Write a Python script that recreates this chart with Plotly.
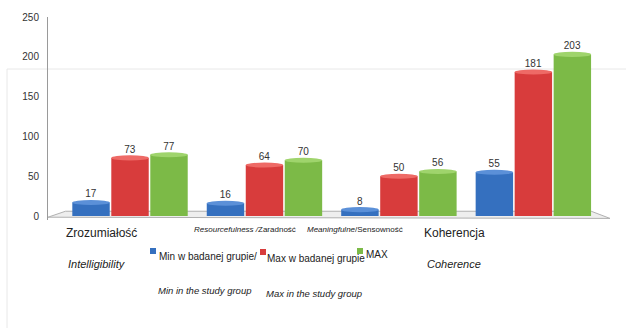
import plotly.graph_objects as go

categories = ["Zrozumiałość", "Resourcefulness /Zaradność", "Meaningfulne/Sensowność", "Koherencja"]
min_group = [17, 16, 8, 55]
max_group = [73, 64, 50, 181]
max_total = [77, 70, 56, 203]
series_names = ["Min w badanej grupie/", "Max w badanej grupie", "MAX"]
y_ticks = [0, 50, 100, 150, 200, 250]

colors = ["#3570bf", "#d83c3c", "#7cba47"]
tops = ["#5b90d8", "#ee6a66", "#9fd46c"]

W, H = 626, 328
ML, MR, MT, MB = 48, 16, 17, 108
PW, PH = W - ML - MR, H - MT - MB


def px(x):
    return (x - ML) / PW


def py(y):
    return (H - MB - y) / PH


FONT = "Liberation Sans, Arial, sans-serif"

fig = go.Figure()
idx = list(range(len(categories)))
for k, (vals, name) in enumerate(zip([min_group, max_group, max_total], series_names)):
    fig.add_trace(go.Bar(
        x=idx, y=vals, name=name, marker=dict(color=colors[k], line=dict(width=0)),
        text=[str(v) for v in vals], textposition="outside",
        textfont=dict(size=10, color="#333", family=FONT),
        cliponaxis=False,
    ))

bargap, groupgap = 0.13, 0.04
slot = (1 - bargap) / 3
bw = slot * (1 - groupgap)
shapes = []
# floor
shapes.append(dict(type="path", xref="x", yref="y",
                   path="M -0.61,-1.5 L -0.48,6 L 3.43,6 L 3.57,-3 Z",
                   fillcolor="#eeeeee", line=dict(color="#b0b0b0", width=1), layer="below"))
for k, vals in enumerate([min_group, max_group, max_total]):
    for i, v in zip(idx, vals):
        c = i + (k - 1) * slot
        shapes.append(dict(type="circle", xref="x", yref="y",
                           x0=c - bw / 2, x1=c + bw / 2, y0=v - 3.2, y1=v + 3.2,
                           fillcolor=tops[k], line=dict(width=0), layer="above"))

# faint frame
shapes.append(dict(type="line", xref="paper", yref="paper", x0=px(7), x1=px(626), y0=py(69), y1=py(69),
                   line=dict(color="#e8e8e8", width=1), layer="below"))
shapes.append(dict(type="line", xref="paper", yref="paper", x0=px(7), x1=px(7), y0=py(69), y1=py(328),
                   line=dict(color="#e8e8e8", width=1), layer="below"))

ann = []


def add(text, x, y, size, xanchor="center", color="#222"):
    ann.append(dict(text=text, x=px(x), y=py(y), xref="paper", yref="paper", showarrow=False,
                    xanchor=xanchor, yanchor="middle", font=dict(size=size, color=color, family=FONT)))


add("Zrozumiałość", 101, 233, 12)
add("<i>Intelligibility</i>", 97, 264, 11)
add("<i>Resourcefulness /</i>Zaradność", 245, 229, 8)
add("<i>Meaningfulne</i>/Sensowność", 355, 229, 8)
add("Koherencja", 454, 233, 12)
add("<i>Coherence</i>", 454, 264, 11)
# legend
add(series_names[0], 157, 256, 10, "left")
add(series_names[1], 265, 258, 10, "left")
add(series_names[2], 364, 254, 10, "left")
add("<i>Min in the study group</i>", 156, 290, 9.5, "left")
add("<i>Max in the study group</i>", 264, 293, 9.5, "left")
for xx, yy, c in [(153, 251, colors[0]), (263, 252, colors[1]), (360, 251, colors[2])]:
    shapes.append(dict(type="rect", xref="paper", yref="paper", x0=px(xx - 3), x1=px(xx + 3),
                       y0=py(yy + 3), y1=py(yy - 3), fillcolor=c, line=dict(width=0)))

fig.update_layout(
    width=W, height=H, margin=dict(l=ML, r=MR, t=MT, b=MB),
    paper_bgcolor="white", plot_bgcolor="white",
    barmode="group", bargap=bargap, bargroupgap=groupgap,
    showlegend=False, shapes=shapes, annotations=ann,
    xaxis=dict(range=[-0.61, 3.57], showticklabels=False, showgrid=False, zeroline=False,
               showline=False, ticks=""),
    yaxis=dict(range=[-5, 250], tickvals=y_ticks, ticktext=[str(t) for t in y_ticks],
               showgrid=False, zeroline=False, showline=True, linecolor="#9a9a9a", linewidth=1,
               ticks="", ticklabelstandoff=6,
               tickfont=dict(size=10, color="#333", family=FONT)),
)

fig.write_html("out.html")
